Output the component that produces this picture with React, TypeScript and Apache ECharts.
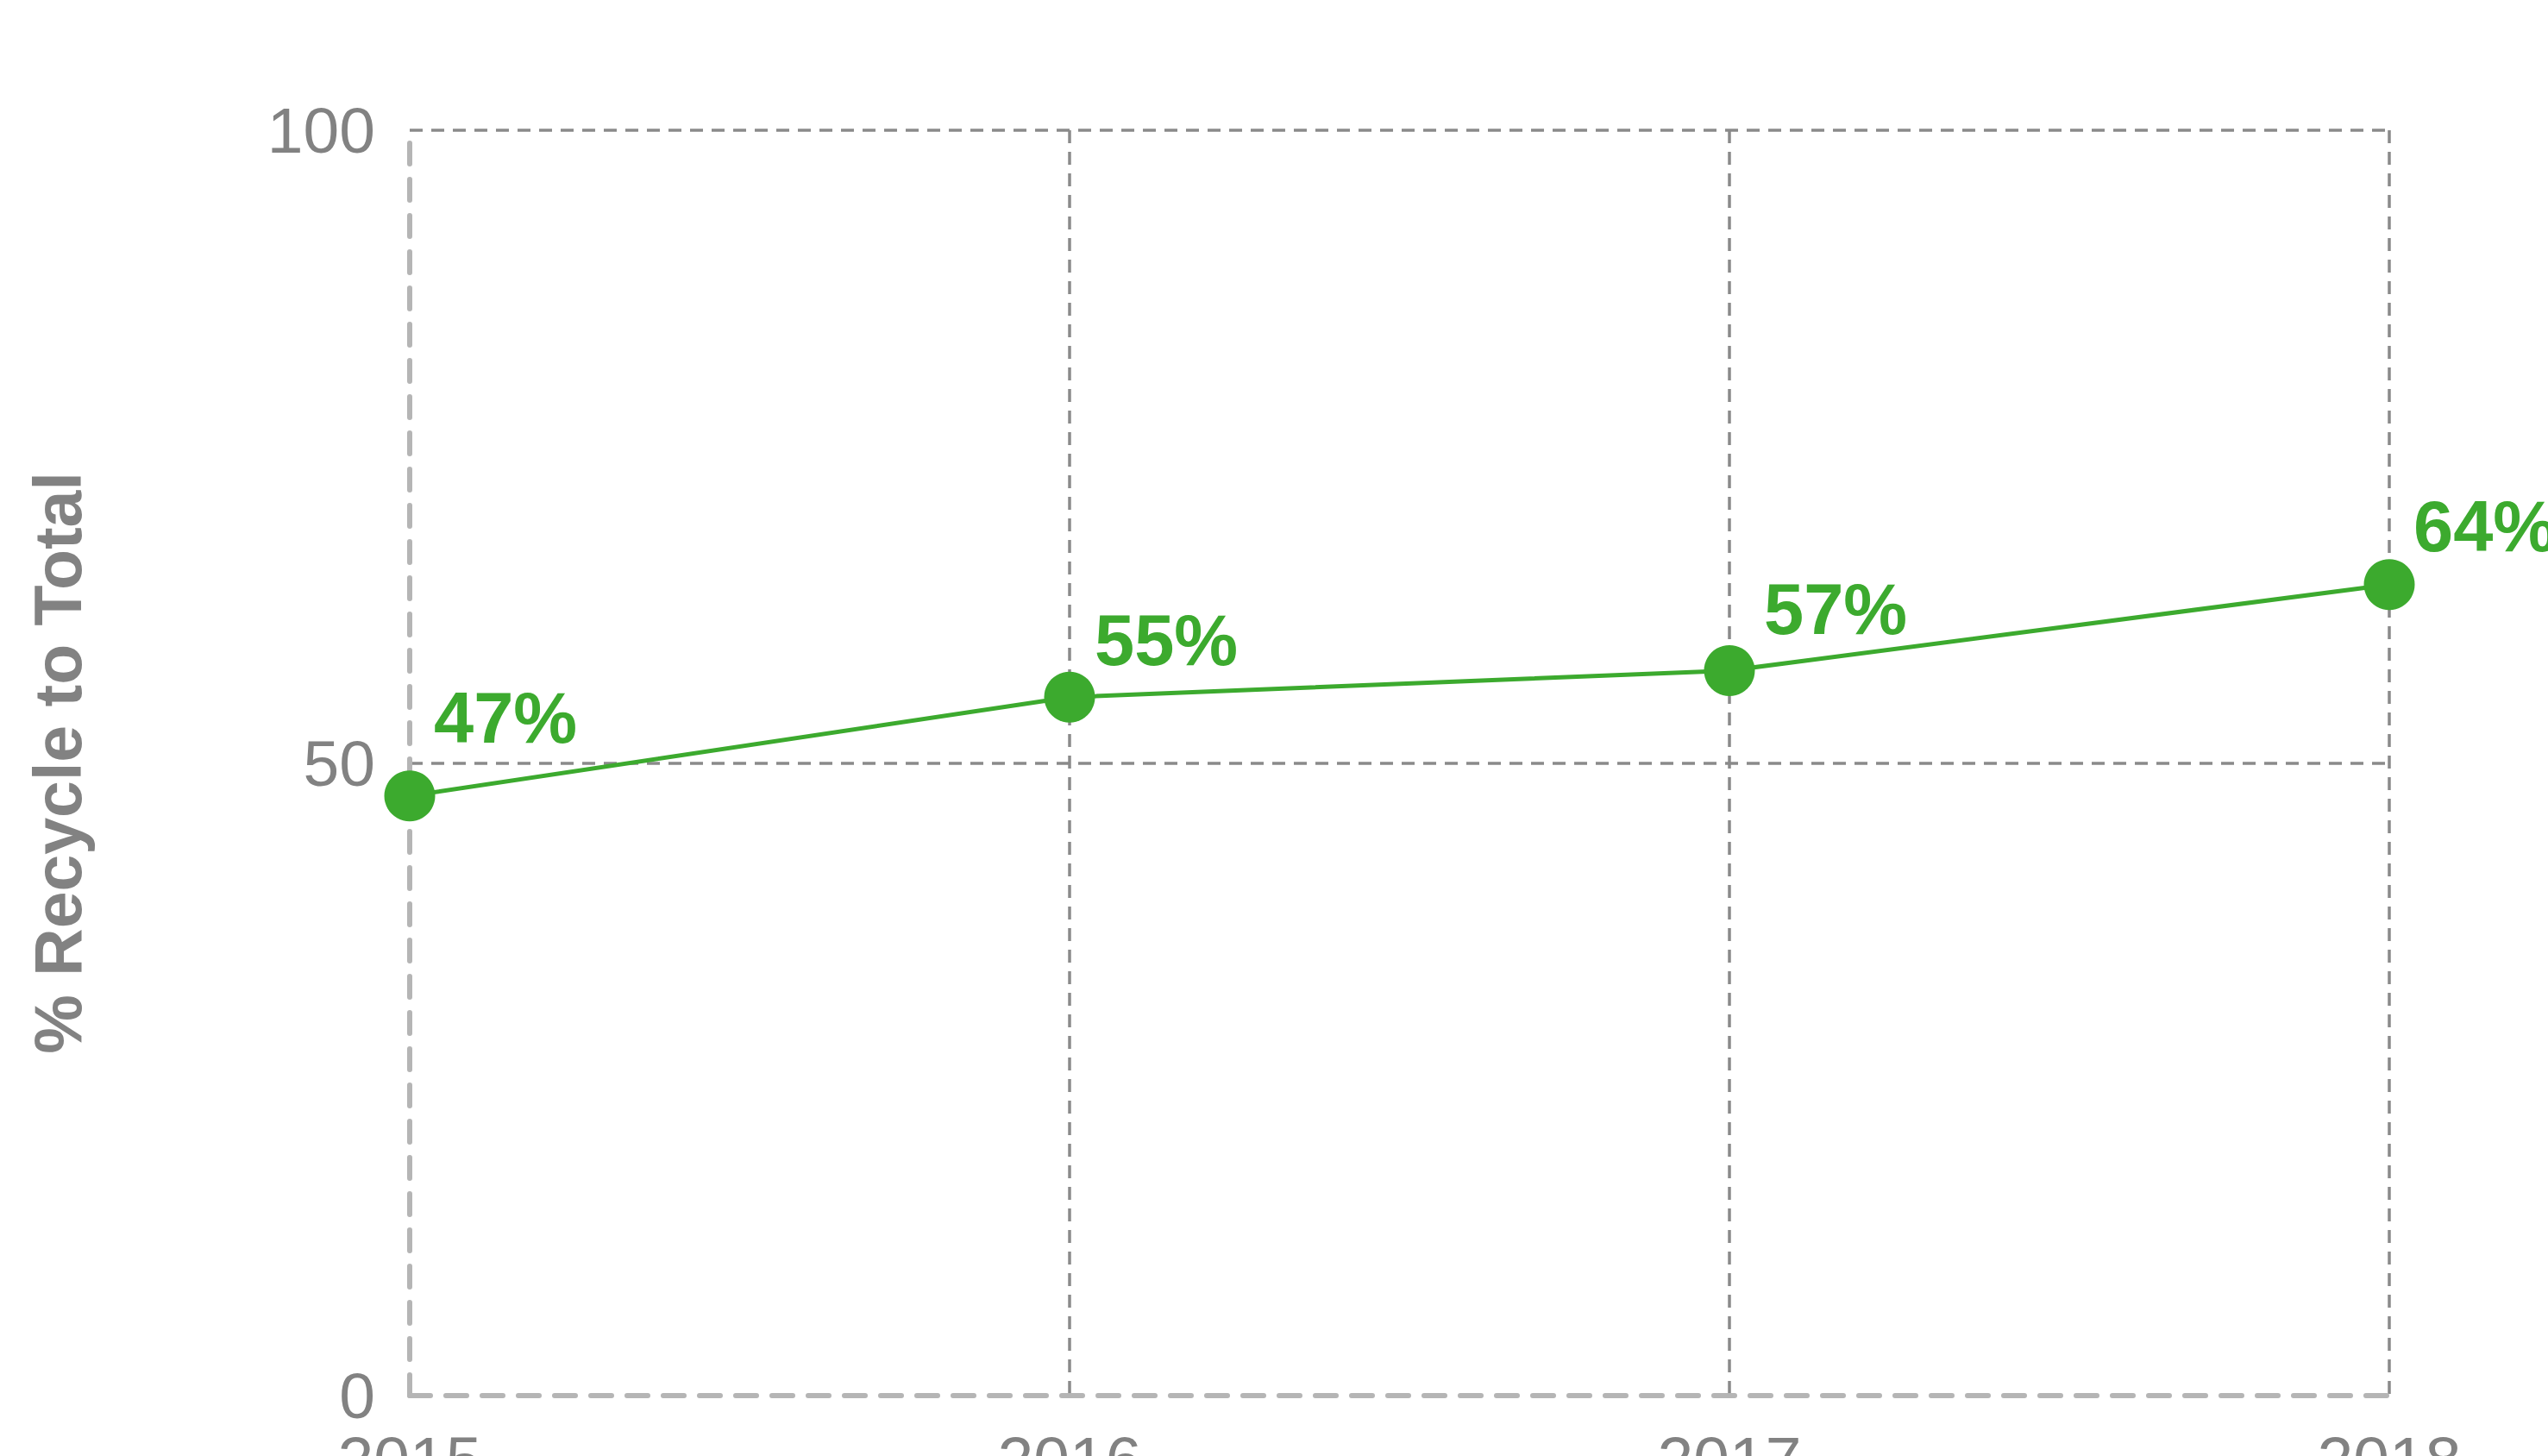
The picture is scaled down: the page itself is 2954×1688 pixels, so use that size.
import React, { useEffect, useRef } from "react";
import * as echarts from "echarts";

const categories = ["2015", "2016", "2017", "2018"];
const recycleShare = [47.4, 55.2, 57.3, 64.1];
const pointLabels = ["47%", "55%", "57%", "64%"];
const yTicks = [0, 50, 100];
const labelOffsets = [
  [28, -90],
  [29, -66],
  [40, -71],
  [28, -67],
];

const GREEN = "#3caa2e";
const TEXT_GRAY = "#828282";
const GRID_GRAY = "#8a8a8a";
const AXIS_GRAY = "#b5b5b5";
const FONT = "'Liberation Sans', Arial, Helvetica, sans-serif";

export default function App() {
  const ref = useRef<HTMLDivElement>(null);

  useEffect(() => {
    document.body.style.margin = "0";
    if (!ref.current) return;
    const chart = echarts.init(ref.current, null, { renderer: "svg" });
    chart.setOption({
      animation: false,
      backgroundColor: "#ffffff",
      grid: {
        left: 475,
        right: 184,
        top: 151,
        bottom: 70,
        containLabel: false,
        outerBoundsMode: "none",
      },
      xAxis: {
        type: "category",
        data: categories,
        boundaryGap: false,
        z: 3,
        axisLine: {
          show: true,
          lineStyle: { color: AXIS_GRAY, width: 6, type: [24, 18] },
        },
        axisTick: { show: false },
        axisLabel: {
          color: TEXT_GRAY,
          fontFamily: FONT,
          fontSize: 75,
          margin: 36,
          hideOverlap: false,
        },
        splitLine: {
          show: true,
          showMinLine: false,
          lineStyle: { color: GRID_GRAY, width: 3.5, type: [15, 10] },
        },
      },
      yAxis: {
        type: "value",
        min: yTicks[0],
        max: yTicks[yTicks.length - 1],
        interval: yTicks[1] - yTicks[0],
        z: 3,
        name: "% Recycle to Total",
        nameLocation: "middle",
        nameGap: 370,
        nameRotate: 90,
        nameTextStyle: {
          color: TEXT_GRAY,
          fontFamily: FONT,
          fontSize: 77,
          fontWeight: "bold",
        },
        axisLine: {
          show: true,
          lineStyle: { color: AXIS_GRAY, width: 6, type: [24, 18] },
        },
        axisTick: { show: false },
        axisLabel: {
          color: TEXT_GRAY,
          fontFamily: FONT,
          fontSize: 75,
          margin: 40,
        },
        splitLine: {
          show: true,
          showMinLine: false,
          lineStyle: { color: GRID_GRAY, width: 3.5, type: [15, 10] },
        },
      },
      series: [
        {
          type: "line",
          data: recycleShare.map((v, i) => ({
            value: v,
            label: {
              show: true,
              position: "inside",
              align: "left",
              verticalAlign: "middle",
              offset: labelOffsets[i],
              formatter: () => pointLabels[i],
            },
          })),
          symbol: "circle",
          symbolSize: 59,
          showAllSymbol: true,
          lineStyle: { color: GREEN, width: 5 },
          itemStyle: { color: GREEN },
          label: {
            show: true,
            color: GREEN,
            fontFamily: FONT,
            fontSize: 83,
            fontWeight: "bold",
          },
          z: 5,
        },
      ],
    });
    return () => chart.dispose();
  }, []);

  return <div ref={ref} style={{ width: 2954, height: 1688 }} />;
}
